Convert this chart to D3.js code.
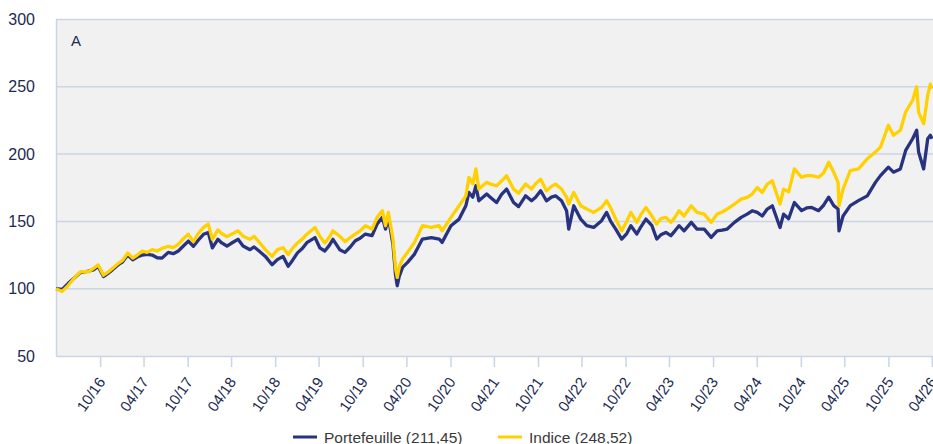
<!DOCTYPE html>
<html>
<head>
<meta charset="utf-8">
<script src="https://cdn.jsdelivr.net/npm/d3@7"></script>
<style>
  body { margin: 0; background: #ffffff; }
  text { font-family: "Liberation Sans", Arial, sans-serif; }
</style>
</head>
<body>
<script>
// dates of the readings
var dates = [
  "2016-04-30","2016-05-26","2016-06-20","2016-07-15","2016-08-10","2016-09-12","2016-10-03","2016-10-23",
  "2016-11-14","2016-12-04","2016-12-21","2017-01-16","2017-02-02","2017-02-23","2017-03-16","2017-04-04",
  "2017-04-25","2017-05-15","2017-06-05","2017-06-26","2017-07-16","2017-08-11","2017-09-01","2017-09-22",
  "2017-10-12","2017-11-03","2017-11-24","2017-12-14","2018-01-05","2018-01-25","2018-02-11","2018-03-06",
  "2018-03-22","2018-04-13","2018-05-08","2018-05-29","2018-06-19","2018-07-18","2018-08-04","2018-08-21",
  "2018-09-20","2018-10-18","2018-11-09","2018-12-03","2018-12-24","2019-01-11","2019-02-01","2019-02-22",
  "2019-03-12","2019-04-15","2019-05-05","2019-05-26","2019-06-13","2019-06-29","2019-07-27","2019-08-18",
  "2019-09-09","2019-09-30","2019-10-20","2019-11-11","2019-12-09","2019-12-30","2020-01-21","2020-02-03",
  "2020-02-15","2020-03-05","2020-03-16","2020-03-23","2020-03-31","2020-04-14","2020-05-05","2020-06-03",
  "2020-07-06","2020-08-12","2020-09-14","2020-09-26","2020-11-02","2020-12-06","2021-01-03","2021-01-16",
  "2021-02-01","2021-02-14","2021-02-26","2021-03-31","2021-04-16","2021-05-11","2021-06-01","2021-06-22",
  "2021-07-21","2021-08-11","2021-09-09","2021-10-04","2021-10-21","2021-11-11","2021-12-05","2021-12-26",
  "2022-01-12","2022-02-06","2022-02-27","2022-03-08","2022-03-29","2022-04-27","2022-05-22","2022-06-20",
  "2022-07-23","2022-08-13","2022-08-30","2022-09-20","2022-10-15","2022-11-05","2022-11-22","2022-12-17",
  "2023-01-03","2023-01-24","2023-02-18","2023-03-10","2023-03-27","2023-04-17","2023-05-08","2023-05-25",
  "2023-06-11","2023-07-02","2023-08-01","2023-08-25","2023-09-24","2023-10-23","2023-11-17","2023-12-08",
  "2023-12-29","2024-01-28","2024-02-25","2024-03-21","2024-04-11","2024-05-02","2024-05-23","2024-06-13",
  "2024-07-04","2024-08-05","2024-08-20","2024-09-10","2024-10-04","2024-11-03","2024-11-24","2024-12-15",
  "2025-01-13","2025-02-03","2025-02-24","2025-03-17","2025-04-04","2025-04-08","2025-04-25","2025-05-25",
  "2025-06-28","2025-08-04","2025-09-07","2025-09-28","2025-10-31","2025-11-21","2025-12-20","2026-01-11",
  "2026-02-09","2026-02-26","2026-03-06","2026-03-27","2026-04-13","2026-04-24","2026-05-01"
];

// portfolio values (navy)
var portefeuille = [
  100,99.5,104,108,112,113,114,116.5,
  109,111.5,114,118,120,125,121.5,123.5,
  125,125.5,125,123,122.7,127,126,128,
  131.5,135.4,131.5,136,140.4,141.7,130.4,136.7,
  134,131.7,134.5,136.7,131.7,129,131,128.6,
  124,117.8,121.6,124,116.6,121,126.6,130,
  134.2,138,130.4,128,132,136.7,129,127,
  131,135.6,137.5,140.6,139.4,148,153,144.3,
  153,133,110,102.2,109,115.8,119.6,125.7,
  136.9,138,136.9,134.4,146.8,151.7,161.6,171.5,
  168,176.5,165.3,170.3,167.8,164,170,174,
  164,161,169,165.3,168,172.8,165.3,168,
  169,165.3,158,144.3,161.6,151.7,146.8,145.5,
  150.5,156.7,150,144.3,136.9,141,146.8,140.6,
  146,151.7,146.8,136.9,140,141.8,139.4,143,
  146.8,143,149.3,144.3,144.3,138.1,143,143.5,
  144.3,149.3,153,155.4,157.9,156.7,154,159.2,
  161.6,145.5,155.4,152,164,158,160,160.4,
  158,162,168,161.7,159.2,143,154,161.7,
  165.4,169,179,184,190.3,186.6,189,202.7,
  211.4,217.7,201.5,189,211.4,214,211.45
];

// index values (yellow)
var indice = [
  100,98,102.5,108,112.6,112.6,115,117.7,
  110,112.5,115,119,121,126.5,122.7,125,
  128,127,129,128,130,131.5,130.5,133,
  137,140.4,135,141,145.5,148,136.7,143.7,
  141,138.7,141,143,139,136.7,139,135.4,
  129,124,129,130.4,125.4,130,134,137,
  140.5,145.5,139,134,138,143,139,135,
  138,140.6,143,146.8,144.3,153,158,146.8,
  156.7,137,115,108.4,116,122,127,134.4,
  146.8,145.5,146.8,143,153,161.6,169,182.7,
  178,189,174,179,177.7,176.5,180,184,
  174,171,177.7,174,178,181.4,172.8,176,
  177.7,174,168,162.9,171.5,161.6,159.2,156.7,
  160.4,165.3,160,151.7,143,150,156.7,149.3,
  155,160.4,154,148,152,153,149.3,153,
  158,154,161.6,156.7,155.4,149.3,155.4,157,
  159.2,162.9,166.6,167.8,170.3,175.2,171.5,177.7,
  180.2,162.9,174,172,189,182.8,184,184,
  182.8,186,194,186.6,179,161.7,174,187.8,
  189,196.5,201.5,205.2,221.4,214,217.7,231.3,
  240,250,231,222.6,243.8,252,248.52
];

// tick labels
var yTicks = [50, 100, 150, 200, 250, 300];
var xTickLabels = ["10/16","04/17","10/17","04/18","10/18","04/19","10/19","04/20","10/20","04/21",
                   "10/21","04/22","10/22","04/23","10/23","04/24","10/24","04/25","10/25","04/26"];
var seriesNames = ["Portefeuille (211,45)", "Indice (248,52)"];
var seriesColors = ["#27337f", "#ffd100"];

// sizes
var w = 933;
var h = 444;
var plotLeft = 56;
var plotRight = 933;
var plotTop = 19.5;
var plotBottom = 356;

var parse = d3.timeParse("%Y-%m-%d");

// tick sits at the end of the labelled month
function tickDate(label) {
  var mm = +label.slice(0, 2);
  var yy = 2000 + (+label.slice(3));
  return new Date(yy, mm, 0);
}

var svg = d3.select("body")
            .append("svg")
            .attr("width", w)
            .attr("height", h);

var x = d3.scaleTime()
          .domain([parse("2016-04-30"), parse("2026-05-05")])
          .range([plotLeft, plotRight]);

var y = d3.scaleLinear()
          .domain([50, 300])
          .range([plotBottom, plotTop]);

// plot background
svg.append("rect")
   .attr("x", plotLeft)
   .attr("y", plotTop)
   .attr("width", plotRight - plotLeft)
   .attr("height", plotBottom - plotTop)
   .attr("fill", "#f1f1f1");

// gridlines
svg.append("g")
   .selectAll("line")
   .data(yTicks.slice(1))
   .enter().append("line")
   .attr("x1", plotLeft)
   .attr("x2", plotRight)
   .attr("y1", d => y(d))
   .attr("y2", d => y(d))
   .attr("stroke", "#c9d5e5")
   .attr("stroke-width", 1.5);

// y axis
var yAxis = svg.append("g")
               .attr("transform", "translate(" + plotLeft + ",0)")
               .call(d3.axisLeft(y).tickValues(yTicks).tickSize(0).tickPadding(21));
yAxis.select(".domain").attr("stroke", "#c9d5e5").attr("stroke-width", 1.5);
yAxis.selectAll("text")
     .attr("fill", "#1b2a52")
     .style("font-size", "16px")
     .style("font-family", "Liberation Sans, Arial, sans-serif");

// x axis
var xAxis = svg.append("g")
               .attr("transform", "translate(0," + plotBottom + ")")
               .call(d3.axisBottom(x)
                       .tickValues(xTickLabels.map(tickDate))
                       .tickFormat((d, i) => xTickLabels[i])
                       .tickSize(11)
                       .tickSizeOuter(0));
xAxis.select(".domain").attr("stroke", "#c9d5e5").attr("stroke-width", 1.5);
xAxis.selectAll(".tick line").attr("stroke", "#c9d5e5").attr("stroke-width", 1.5);
xAxis.selectAll("text")
     .attr("fill", "#1b2a52")
     .style("font-size", "15px")
     .style("font-family", "Liberation Sans, Arial, sans-serif")
     .attr("text-anchor", "end")
     .attr("x", 0)
     .attr("y", 0)
     .attr("dy", "0.35em")
     .attr("transform", "translate(1,23) rotate(-55)");

// "A" label
svg.append("text")
   .attr("x", 71)
   .attr("y", 46)
   .attr("fill", "#1b2a52")
   .style("font-size", "15px")
   .text("A");

// lines
var series = [portefeuille, indice];
var line = d3.line()
             .x(d => x(d.date))
             .y(d => y(d.value));

series.forEach(function(vals, k) {
  var data = dates.map((d, i) => ({date: parse(d), value: vals[i]}));
  svg.append("path")
     .datum(data)
     .attr("fill", "none")
     .attr("stroke", seriesColors[k])
     .attr("stroke-width", 3.3)
     .attr("stroke-linejoin", "round")
     .attr("d", line);
});

// legend
var legendX = [293, 498];
var legend = svg.selectAll(".legend")
                .data(seriesNames)
                .enter().append("g")
                .attr("class", "legend")
                .attr("transform", (d, i) => "translate(" + legendX[i] + ",437)");

legend.append("line")
      .attr("x1", 0)
      .attr("x2", 24)
      .attr("stroke", (d, i) => seriesColors[i])
      .attr("stroke-width", 3);

legend.append("text")
      .attr("x", 31)
      .attr("y", 5.5)
      .attr("fill", "#3a3a3a")
      .style("font-size", "15.5px")
      .text(d => d);
</script>
</body>
</html>
